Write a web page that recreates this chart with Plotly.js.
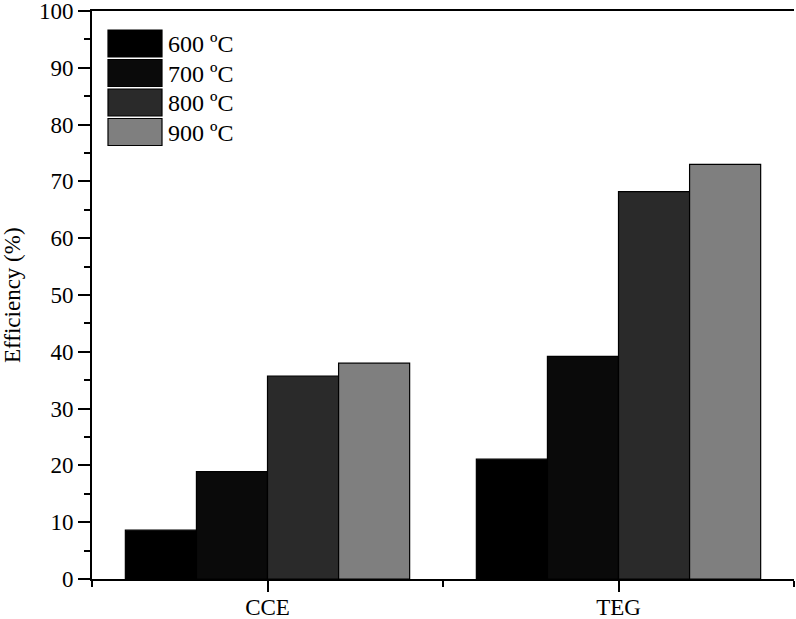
<!DOCTYPE html>
<html>
<head>
<meta charset="utf-8">
<script src="https://cdn.plot.ly/plotly-3.0.1.min.js"></script>
<style>
  html, body { margin: 0; padding: 0; background: #fff; }
  #chart { width: 796px; height: 619px; }
</style>
</head>
<body>
<div id="chart"></div>
<script>
// Conversion efficiencies per process and pyrolysis temperature
const categories = ['CCE', 'TEG'];
const seriesNames = ['600 ºC', '700 ºC', '800 ºC', '900 ºC'];
const seriesColors = ['#000000', '#0a0a0a', '#2a2a2a', '#7f7f7f'];
const eff600 = [8.6, 21.1];
const eff700 = [18.9, 39.2];
const eff800 = [35.7, 68.2];
const eff900 = [38.0, 73.0];
const seriesValues = [eff600, eff700, eff800, eff900];

const xIdx = categories.map((c, i) => i);
const FONT = 'Liberation Serif';

const traces = seriesValues.map((vals, k) => ({
  type: 'bar',
  x: xIdx,
  y: vals,
  name: seriesNames[k],
  marker: { color: seriesColors[k], line: { color: '#000', width: 1.2 } },
  showlegend: false,
  hoverinfo: 'y'
}));

// Plot-area geometry in pixels (used for the hand-built legend)
const M = { l: 92, r: 2, t: 11, b: 40 };
const W = 796, H = 619;
const pw = W - M.l - M.r, ph = H - M.t - M.b;
const px = x => (x - M.l) / pw;
const py = y => (H - M.b - y) / ph;

const shapes = [];
const annotations = [];
seriesNames.forEach((name, k) => {
  const top = 30 + k * 29.5;
  shapes.push({
    type: 'rect', xref: 'paper', yref: 'paper',
    x0: px(108), x1: px(162), y0: py(top + 27), y1: py(top),
    fillcolor: seriesColors[k], line: { color: '#000', width: 1.2 }
  });
  annotations.push({
    xref: 'paper', yref: 'paper', x: px(166), y: py(top + 14),
    xanchor: 'left', yanchor: 'middle', showarrow: false,
    text: name, font: { family: FONT, size: 24, color: '#000' }
  });
});

// y-axis title placed as a rotated annotation
annotations.push({
  xref: 'paper', yref: 'paper', x: px(12), y: 0.5,
  xanchor: 'center', yanchor: 'middle', showarrow: false, textangle: -90,
  text: 'Efficiency (%)', font: { family: FONT, size: 23, color: '#000' }
});

const layout = {
  width: W, height: H,
  margin: M,
  paper_bgcolor: '#fff', plot_bgcolor: '#fff',
  font: { family: FONT, size: 23, color: '#000' },
  barmode: 'group', bargap: 0.19, bargroupgap: 0,
  showlegend: false,
  xaxis: {
    range: [-0.5, 1.5], tickmode: 'array', tickvals: xIdx, ticktext: categories,
    ticks: 'outside', ticklen: 11, tickwidth: 2, tickcolor: '#000',
    minor: { tickmode: 'array', tickvals: [-0.5, 0.5, 1.5], ticks: 'outside', ticklen: 6, tickwidth: 2, tickcolor: '#000' },
    showline: true, linewidth: 2, linecolor: '#000', mirror: true,
    showgrid: false, zeroline: false, fixedrange: true, automargin: false,
    ticklabeloverflow: 'allow', ticklabelstandoff: -5,
    tickfont: { family: FONT, size: 23 }
  },
  yaxis: {
    range: [0, 100], dtick: 10, ticks: 'outside', ticklen: 12, tickwidth: 2, tickcolor: '#000',
    minor: { dtick: 5, ticks: 'outside', ticklen: 6, tickwidth: 2, tickcolor: '#000' },
    showline: true, linewidth: 2, linecolor: '#000',
    showgrid: false, zeroline: false, fixedrange: true, automargin: false,
    ticklabeloverflow: 'allow',
    tickfont: { family: FONT, size: 23 }
  },
  yaxis2: {
    overlaying: 'y', side: 'right', anchor: 'x',
    range: [0, 100], dtick: 10, ticks: 'inside', ticklen: 12, tickwidth: 2, tickcolor: '#000',
    minor: { dtick: 5, ticks: 'inside', ticklen: 6, tickwidth: 2, tickcolor: '#000' },
    showticklabels: false, showline: true, linewidth: 2, linecolor: '#000',
    showgrid: false, zeroline: false, fixedrange: true
  },
  shapes: shapes,
  annotations: annotations
};

Plotly.newPlot('chart', traces, layout, { displayModeBar: false, staticPlot: true });
</script>
</body>
</html>
